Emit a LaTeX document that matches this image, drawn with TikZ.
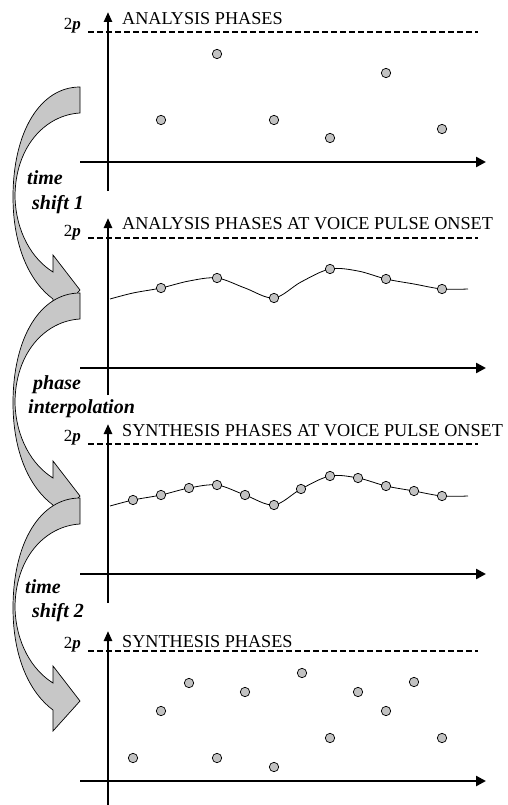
\documentclass[tikz,border=0pt]{standalone}
\usepackage{fontspec}
\setmainfont{Liberation Serif}
\usetikzlibrary{arrows.meta}

\definecolor{bandgray}{gray}{0.78}
\definecolor{dotgray}{gray}{0.76}

\tikzset{
  axisline/.style={line width=2.4pt},
  haxis/.style={axisline,-{Triangle[length=10pt,width=10pt]}},
  vaxis/.style={axisline,-{Triangle[length=10pt,width=8pt]}},
  limitline/.style={line width=1.5pt,dash pattern=on 5.5pt off 3.5pt},
  phasedot/.style={draw=black,fill=dotgray,line width=0.7pt},
  wave/.style={line width=0.8pt},
  title/.style={inner sep=0pt,anchor=base west,font=\fontsize{18.2}{22}\selectfont},
  twopi/.style={inner sep=0pt,anchor=base east,font=\fontsize{17}{20}\selectfont},
  steplabel/.style={inner sep=0pt,anchor=base west,font=\fontsize{20}{24}\selectfont\bfseries\itshape},
  bentarrow/.pic={
    \filldraw[fill=bandgray,draw=black,line width=0.7pt,line join=miter]
      (0,0) .. controls (-40,0) and (-67,45) .. (-67,110)
      .. controls (-67,160) and (-50,195) .. (-27,212)
      -- (-27,233) -- (0,203) -- (-27,168) -- (-27,185)
      .. controls (-48,172) and (-64,145) .. (-65,110)
      .. controls (-65,60) and (-35,28) .. (0,26) -- cycle;
  }
}

\begin{document}
\begin{tikzpicture}[x=1pt,y=-1pt]
\useasboundingbox (0,0) rectangle (508,805);
\fill[white] (0,0) rectangle (508,805);

% frames of the four phase plots
\foreach \oy/\bot in {0/191, 206/395, 412/603, 619/805}{
  \begin{scope}[shift={(0,\oy)}]
    \draw[limitline] (88,32) -- (478,32);
    \draw[haxis] (80,162) -- (486,162);
    \draw[vaxis] (108,\bot-\oy) -- (108,12);
  \end{scope}
}

% titles and 2pi marks
\node[title] (t1) at (122,25) {ANALYSIS PHASES};
\node[title] (t2) at (122,229) {ANALYSIS PHASES AT VOICE PULSE ONSET};
\node[title] (t3) at (122,436) {SYNTHESIS PHASES AT VOICE PULSE ONSET};
\node[title] (t4) at (122,647) {SYNTHESIS PHASES};
\foreach \by/\nm in {30/p1, 236/p2, 441/p3, 648/p4}{
  \node[twopi] (\nm) at (81,\by) {2\textbf{\textit{p}}};
}

% analysis phases
\foreach \px/\py in {161/120, 217/54, 274/120, 330/138, 386/73, 442/129}{
  \filldraw[phasedot] (\px,\py) circle[radius=4.7pt];
}

% phase curve at voice pulse onset (analysis, then interpolated)
\foreach \sh in {0,207}{
  \begin{scope}[shift={(0,\sh)}]
    \draw[wave] plot[smooth,tension=0.55] coordinates {
      (110,299) (133,293) (161,288) (189,281) (217,278) (245,288) (274,298)
      (301,282) (330,269) (358,271) (386,279) (414,284) (442,289) (468,289)};
  \end{scope}
}
\foreach \px/\py in {161/288, 217/278, 274/298, 330/269, 386/279, 442/289}{
  \filldraw[phasedot] (\px,\py) circle[radius=4.7pt];
}
\begin{scope}[shift={(0,207)}]
  \foreach \px/\py in {133/293, 161/288, 189/281, 217/278, 245/288, 274/298,
                      301/282, 330/269, 358/271, 386/279, 414/284, 442/289}{
    \filldraw[phasedot] (\px,\py) circle[radius=4.7pt];
  }
\end{scope}

% synthesis phases
\foreach \px/\py in {133/758, 161/711, 189/683, 217/758, 245/692, 274/767,
                    302/673, 330/738, 358/692, 386/711, 414/682, 442/738}{
  \filldraw[phasedot] (\px,\py) circle[radius=4.7pt];
}

% processing steps between the plots
\pic at (80,87) {bentarrow};
\pic at (80,293) {bentarrow};
\pic at (80,498) {bentarrow};

\node[steplabel] (s1a) at (27,185) {time};
\node[steplabel] (s1b) at (32,209) {shift 1};
\node[steplabel] (s2a) at (33,389) {phase};
\node[steplabel] (s2b) at (28,413) {interpolation};
\node[steplabel] (s3a) at (25,593) {time};
\node[steplabel] (s3b) at (32,617) {shift 2};
\end{tikzpicture}
\end{document}
